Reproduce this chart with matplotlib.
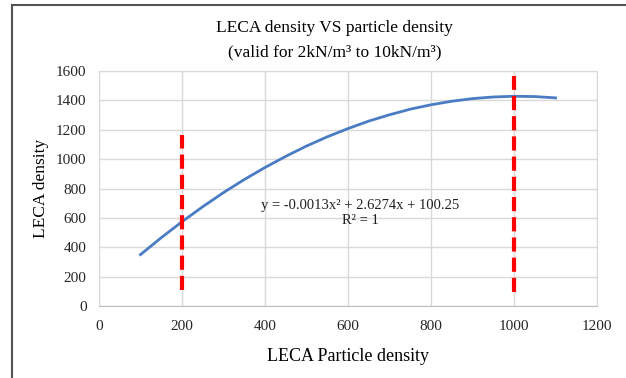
import matplotlib.pyplot as plt
from matplotlib.lines import Line2D

# values
particle_density = [100, 150, 200, 250, 300, 350, 400, 450, 500, 550, 600,
                    650, 700, 750, 800, 850, 900, 950, 1000, 1050, 1100]
leca_density = [350, 465, 574, 676, 772, 861, 943, 1019, 1089, 1152, 1208,
                1259, 1302, 1340, 1370, 1394, 1412, 1423, 1428, 1426, 1417]

# red limit markers (x, y bottom, y top)
limit_x = [200, 1000]
limit_ylo = [110, 95]
limit_yhi = [1165, 1565]

xticks = [0, 200, 400, 600, 800, 1000, 1200]
yticks = [0, 200, 400, 600, 800, 1000, 1200, 1400, 1600]

plt.rcParams['font.family'] = ['Liberation Serif', 'DejaVu Serif']

fig = plt.figure(figsize=(6.26, 3.78), dpi=100)
ax = fig.add_axes([99/626, 1 - 306/378, (597 - 99)/626, (306 - 71)/378])

ax.plot(particle_density, leca_density, color='#4A7CC4', lw=2.0, zorder=3)

for x, lo, hi in zip(limit_x, limit_ylo, limit_yhi):
    ax.plot([x, x], [lo, hi], color='#FF0000', lw=3.0, dashes=(3.4, 1.45), zorder=4)

ax.set_xlim(0, 1200)
ax.set_ylim(0, 1600)
ax.set_xticks(xticks)
ax.set_yticks(yticks)
ax.tick_params(length=0, labelsize=11, colors='#262626', pad=10)
ax.tick_params(axis='y', pad=9)
ax.grid(True, color='#D9D9D9', lw=1)
ax.set_axisbelow(True)
for s in ax.spines.values():
    s.set_color('#D9D9D9')
ax.spines['bottom'].set_color('#BFBFBF')

ax.set_xlabel('LECA Particle density', fontsize=13, labelpad=11, color='#000000')
ax.set_ylabel('LECA density', fontsize=12.5, labelpad=5, color='#000000')

fig.text(0.534, 1 - 28/378, 'LECA density VS particle density',
         ha='center', va='center', fontsize=12.5)
fig.text(0.535, 1 - 52/378, '(valid for 2kN/m³ to 10kN/m³)',
         ha='center', va='center', fontsize=12.5)

ax.text(629, 687, 'y = -0.0013x² + 2.6274x + 100.25',
        ha='center', va='center', fontsize=10.5, color='#202020')
ax.text(629, 585, 'R² = 1',
        ha='center', va='center', fontsize=10.5, color='#202020')

fig.add_artist(Line2D([12/626, 12/626], [0, 1 - 5/378], color='#555555', lw=1.5, transform=fig.transFigure))
fig.add_artist(Line2D([12/626, 1], [1 - 5/378, 1 - 5/378], color='#555555', lw=1.5, transform=fig.transFigure))

fig.savefig('out.png', dpi=100)
